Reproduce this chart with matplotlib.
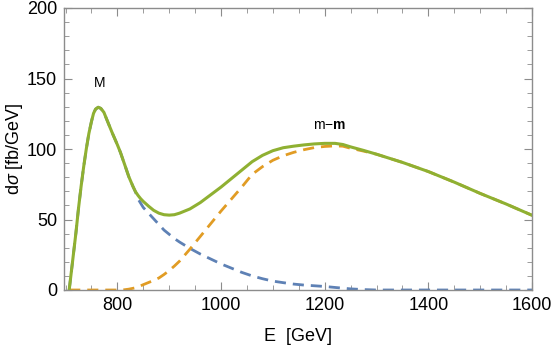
import matplotlib
matplotlib.use("Agg")
import matplotlib.pyplot as plt
from matplotlib.ticker import MultipleLocator

# energy grid (GeV) shared by all three curves
energy = [707, 712, 716, 720, 725, 730, 735, 740, 745, 750, 754, 758, 763, 768, 774,
          780, 790, 800, 806, 814, 822, 830, 835, 840, 845, 850, 860, 870, 880, 890,
          900, 910, 920, 940, 960, 980, 1000, 1020, 1040, 1060, 1080, 1100, 1120, 1140,
          1160, 1180, 1200, 1220, 1235, 1250, 1275, 1300, 1350, 1400, 1450, 1500, 1550, 1600]

# total (green)
total = [0, 15.5, 28, 40.5, 58, 73.5, 87.5, 100, 111, 119.5, 125.3, 128.3, 129.6, 128.8, 126,
         120.5, 111.5, 103, 97.5, 89, 80.4, 73.5, 69.7, 67, 64.7, 62.8, 59.5, 56.5, 54.5, 53.4,
         53.1, 53.4, 54.5, 57.5, 62, 67.5, 73, 79, 85, 91, 95.5, 98.8, 100.9, 102,
         102.9, 103.6, 104, 104, 103.2, 101.5, 99, 96.3, 90.5, 84, 76.5, 68.5, 61, 53]

# resonance part M (blue dashed)
resonance = [0, 15.5, 28, 40.5, 58, 73.5, 87.5, 100, 111, 119.5, 125.3, 128.3, 129.6, 128.8, 126,
             120.5, 111.5, 103, 97.5, 89, 80.4, 73.5, 69.5, 64.5, 61.5, 58.5, 54.5, 50.5, 46.5, 42.5,
             39.5, 36.5, 34, 29.5, 25.5, 22, 18.5, 15.5, 12.5, 10, 8, 6.3, 5.2, 4.2,
             3.5, 3, 2.5, 1.8, 1.3, 0.8, 0.3, 0, 0, 0, 0, 0, 0, 0]

# pair part m-m (orange dashed)
pair = [0, 0, 0, 0, 0, 0, 0, 0, 0, 0, 0, 0, 0, 0, 0,
        0, 0, 0, 0, 0.2, 0.6, 1.2, 1.6, 2.2, 3, 3.8, 5.3, 6.8, 8.5, 11,
        13.8, 17, 20.5, 29, 38, 47, 56, 64.5, 73, 82, 87.5, 92, 95.2, 97.6,
        99.5, 101, 101.8, 102.2, 102, 100.5, 98.5, 96.3, 90.5, 84, 76.5, 68.5, 61, 53]

blue = "#5E81B5"
orange = "#E19C24"
green = "#8FB032"
frame = "#8c8c8c"

plt.rcParams["font.family"] = ["Liberation Sans", "DejaVu Sans"]
plt.rcParams["mathtext.fontset"] = "custom"
plt.rcParams["mathtext.rm"] = "Liberation Sans"
plt.rcParams["mathtext.it"] = "Liberation Sans:italic"
plt.rcParams["mathtext.bf"] = "Liberation Sans:bold"

fig = plt.figure(figsize=(5.54, 3.46), dpi=100)
ax = fig.add_axes([64 / 554, 56 / 346, 468 / 554, 282 / 346])

ax.plot(energy, resonance, color=blue, lw=2.0, dashes=(4, 2.5))
ax.plot(energy, pair, color=orange, lw=2.0, dashes=(4, 2.5))
ax.plot(energy, total, color=green, lw=2.2)

ax.text(765, 147, "M", fontsize=10, ha="center", va="center")
ax.text(1210, 117, r"m$-$$\mathbf{m}$", fontsize=10, ha="center", va="center")

ax.set_xlim(697, 1600)
ax.set_ylim(0, 200)
ax.xaxis.set_major_locator(MultipleLocator(200))
ax.xaxis.set_minor_locator(MultipleLocator(50))
ax.yaxis.set_major_locator(MultipleLocator(50))
ax.yaxis.set_minor_locator(MultipleLocator(10))

for s in ax.spines.values():
    s.set_color(frame)
    s.set_linewidth(1.0)
ax.tick_params(which="both", direction="in", top=True, right=True, color=frame,
               labelsize=13, labelcolor="black")
ax.tick_params(which="major", length=6, width=0.8, pad=5)
ax.tick_params(which="minor", length=3.5, width=0.6)

ax.set_xlabel("E  [GeV]", fontsize=13, labelpad=10)
fig.text(15 / 554, 197 / 346, r"d$\sigma$ [fb/GeV]", fontsize=13, rotation=90,
         ha="center", va="center")

fig.savefig("out.png", dpi=100)
